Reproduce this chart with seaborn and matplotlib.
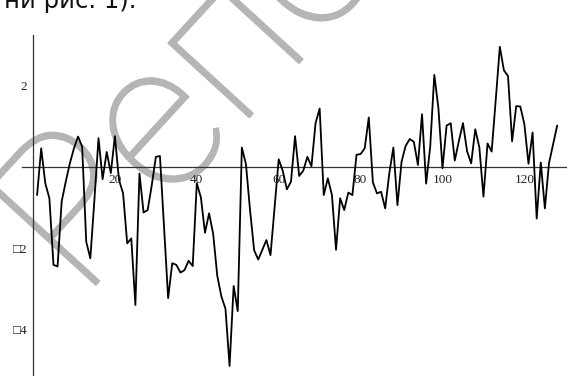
import matplotlib
matplotlib.use("Agg")
import matplotlib.pyplot as plt
import matplotlib.patheffects as pe
import seaborn as sns
import pandas as pd
from matplotlib.ticker import FixedLocator, MultipleLocator

# Series: one reading per step
index = list(range(1, 129))
values = [
    -0.69, 0.46, -0.40, -0.77, -2.41, -2.45, -0.85, -0.36, 0.09, 0.46,
    0.75, 0.50, -1.84, -2.25, -0.80, 0.71, -0.30, 0.37, -0.15, 0.76,
    -0.32, -0.65, -1.88, -1.76, -3.40, -0.16, -1.12, -1.06, -0.45, 0.25,
    0.27, -1.50, -3.23, -2.37, -2.41, -2.60, -2.54, -2.31, -2.44, -0.40,
    -0.75, -1.62, -1.14, -1.65, -2.68, -3.19, -3.49, -4.90, -2.93, -3.55,
    0.48, 0.07, -1.06, -2.05, -2.28, -2.04, -1.80, -2.17, -0.98, 0.19,
    -0.10, -0.55, -0.36, 0.76, -0.22, -0.09, 0.25, 0.02, 1.08, 1.44,
    -0.69, -0.28, -0.69, -2.04, -0.77, -1.06, -0.63, -0.69, 0.30, 0.32,
    0.46, 1.22, -0.38, -0.65, -0.61, -1.02, -0.16, 0.48, -0.94, 0.13,
    0.52, 0.69, 0.62, 0.05, 1.30, -0.41, 0.50, 2.27, 1.45, -0.03,
    1.02, 1.08, 0.16, 0.64, 1.08, 0.39, 0.09, 0.93, 0.48, -0.73,
    0.58, 0.38, 1.65, 2.96, 2.38, 2.24, 0.63, 1.50, 1.49, 1.05,
    0.08, 0.85, -1.27, 0.11, -1.02, 0.09, 0.56, 1.02,
]

x_ticks = [20, 40, 60, 80, 100, 120]
x_tick_labels = ["20", "40", "60", "80", "100", "120"]
y_ticks = [-4, -2, 2]
y_tick_labels = ["\u25a14", "\u25a12", "2"]

caption = "ни рис. 1)."
watermark = "Репозиторий"

df = pd.DataFrame({"n": index, "value": values})

sns.set_style("white")
plt.rcParams["font.family"] = ["Liberation Serif", "DejaVu Serif", "DejaVu Sans"]

W, H = 567, 376
fig = plt.figure(figsize=(W / 100, H / 100), dpi=100)
fig.patch.set_facecolor("white")
ax = fig.add_axes([0, 0, 1, 1])
ax.set_facecolor("none")

# axes frame: origin at pixel (33, 167)
px_per_x = 4.095
px_per_y = 40.6
x0_px, y0_px = 33.0, 167.0
ax.set_xlim(-x0_px / px_per_x, (W - x0_px) / px_per_x)
ax.set_ylim((y0_px - H) / px_per_y, y0_px / px_per_y)

# faint diagonal watermark, drawn underneath the axes
wm_color = "#b5b5b5"
fig.text(82 / W, (H - 300) / H, watermark, rotation=47.5, rotation_mode="anchor",
         ha="left", va="baseline", fontsize=150, color=wm_color,
         family=["Roboto", "Lato", "Open Sans", "DejaVu Sans"], fontweight="light",
         zorder=-1,
         path_effects=[pe.withStroke(linewidth=1.2, foreground=wm_color)])

sns.lineplot(data=df, x="n", y="value", ax=ax, color="black", linewidth=1.3,
             zorder=3)

for side in ["top", "right"]:
    ax.spines[side].set_visible(False)
ax.spines["left"].set_position(("data", 0))
ax.spines["bottom"].set_position(("data", 0))
ax.spines["left"].set_bounds(-5.3, 3.25)
ax.spines["bottom"].set_bounds(-2.75, 131)
for side in ["left", "bottom"]:
    ax.spines[side].set_color("#333333")
    ax.spines[side].set_linewidth(0.9)
    ax.spines[side].set_zorder(2)

ax.xaxis.set_major_locator(FixedLocator(x_ticks))
ax.set_xticklabels(x_tick_labels)
ax.xaxis.set_minor_locator(MultipleLocator(5))
ax.yaxis.set_major_locator(FixedLocator(y_ticks))
ax.set_yticklabels(y_tick_labels)
ax.yaxis.set_minor_locator(FixedLocator([v / 2 for v in range(-10, 7) if v % 4 != 0]))

ax.tick_params(which="major", direction="in", length=4.2, width=0.8,
               color="#333333", labelsize=9.5, labelcolor="#222222")
ax.tick_params(which="minor", direction="in", length=2.4, width=0.8,
               color="#333333")
ax.tick_params(axis="x", which="major", pad=5)
ax.tick_params(axis="y", which="major", pad=4)
ax.set_xlabel("")
ax.set_ylabel("")

# clipped running text above the figure
fig.text(4 / W, (H - 8) / H, caption, ha="left", va="baseline", fontsize=17.5,
         color="#111111", family=["DejaVu Sans"])

fig.savefig("out.png", dpi=100, facecolor="white")
